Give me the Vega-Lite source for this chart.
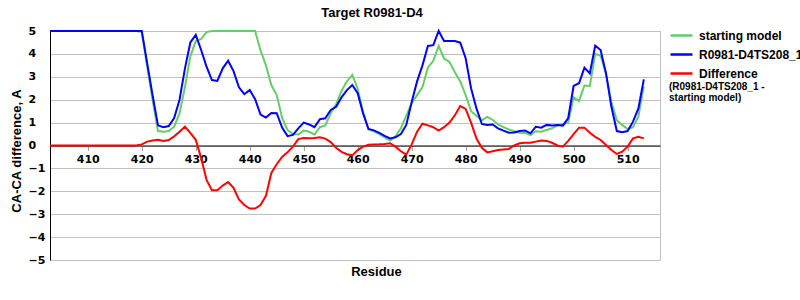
{
 "$schema": "https://vega.github.io/schema/vega-lite/v6.json",
 "width": 610, "height": 229,
 "autosize": {"type": "none"},
 "padding": {"left": 50, "top": 31, "right": 140, "bottom": 40},
 "background": "white",
 "title": {"text": "Target R0981-D4", "font": "Liberation Sans", "fontSize": 13, "fontWeight": "bold", "color": "black", "anchor": "middle", "dx": 17, "dy": 19, "offset": 12, "baseline": "alphabetic"},
 "data": {"values": [
  {"res":403,"g":5,"b":5,"r":0},{"res":404,"g":5,"b":5,"r":0},{"res":405,"g":5,"b":5,"r":0},{"res":406,"g":5,"b":5,"r":0},
  {"res":407,"g":5,"b":5,"r":0},{"res":408,"g":5,"b":5,"r":0},{"res":409,"g":5,"b":5,"r":0},{"res":410,"g":5,"b":5,"r":0},
  {"res":411,"g":5,"b":5,"r":0},{"res":412,"g":5,"b":5,"r":0},{"res":413,"g":5,"b":5,"r":0},{"res":414,"g":5,"b":5,"r":0},
  {"res":415,"g":5,"b":5,"r":0},{"res":416,"g":5,"b":5,"r":0},{"res":417,"g":5,"b":5,"r":0},{"res":418,"g":5,"b":5,"r":0},
  {"res":419,"g":5,"b":5,"r":0},{"res":420,"g":4.95,"b":5,"r":0.05},{"res":421,"g":3.45,"b":3.6,"r":0.17},{"res":422,"g":2.0,"b":2.2,"r":0.22},
  {"res":423,"g":0.63,"b":0.88,"r":0.25},{"res":424,"g":0.6,"b":0.8,"r":0.2},{"res":425,"g":0.63,"b":0.85,"r":0.24},{"res":426,"g":0.82,"b":1.2,"r":0.4},
  {"res":427,"g":1.4,"b":2.0,"r":0.6},{"res":428,"g":2.55,"b":3.37,"r":0.82},{"res":429,"g":3.9,"b":4.5,"r":0.55},{"res":430,"g":4.55,"b":4.83,"r":0.25},
  {"res":431,"g":4.65,"b":4.17,"r":-0.55},{"res":432,"g":4.95,"b":3.44,"r":-1.5},{"res":433,"g":5,"b":2.86,"r":-1.95},{"res":434,"g":5,"b":2.82,"r":-1.95},
  {"res":435,"g":5,"b":3.37,"r":-1.75},{"res":436,"g":5,"b":3.7,"r":-1.6},{"res":437,"g":5,"b":3.25,"r":-1.85},{"res":438,"g":5,"b":2.54,"r":-2.35},
  {"res":439,"g":5,"b":2.24,"r":-2.6},{"res":440,"g":5,"b":2.42,"r":-2.75},{"res":441,"g":5,"b":2.02,"r":-2.75},{"res":442,"g":4.15,"b":1.35,"r":-2.6},
  {"res":443,"g":3.5,"b":1.22,"r":-2.2},{"res":444,"g":2.64,"b":1.42,"r":-1.2},{"res":445,"g":2.2,"b":1.41,"r":-0.82},{"res":446,"g":1.2,"b":0.78,"r":-0.5},
  {"res":447,"g":0.68,"b":0.41,"r":-0.3},{"res":448,"g":0.5,"b":0.46,"r":-0.05},{"res":449,"g":0.48,"b":0.75,"r":0.28},{"res":450,"g":0.65,"b":1.0,"r":0.33},
  {"res":451,"g":0.6,"b":0.92,"r":0.32},{"res":452,"g":0.48,"b":0.8,"r":0.33},{"res":453,"g":0.8,"b":1.15,"r":0.36},{"res":454,"g":0.88,"b":1.19,"r":0.3},
  {"res":455,"g":1.4,"b":1.55,"r":0.15},{"res":456,"g":1.8,"b":1.69,"r":-0.1},{"res":457,"g":2.38,"b":2.1,"r":-0.28},{"res":458,"g":2.8,"b":2.42,"r":-0.38},
  {"res":459,"g":3.08,"b":2.64,"r":-0.43},{"res":460,"g":2.48,"b":2.28,"r":-0.2},{"res":461,"g":1.45,"b":1.4,"r":-0.05},{"res":462,"g":0.7,"b":0.72,"r":0.03},
  {"res":463,"g":0.62,"b":0.66,"r":0.04},{"res":464,"g":0.5,"b":0.55,"r":0.05},{"res":465,"g":0.35,"b":0.42,"r":0.07},{"res":466,"g":0.22,"b":0.31,"r":0.1},
  {"res":467,"g":0.4,"b":0.36,"r":-0.05},{"res":468,"g":0.75,"b":0.5,"r":-0.25},{"res":469,"g":1.3,"b":0.9,"r":-0.4},{"res":470,"g":1.85,"b":1.9,"r":0.05},
  {"res":471,"g":2.2,"b":2.8,"r":0.6},{"res":472,"g":2.55,"b":3.5,"r":0.95},{"res":473,"g":3.4,"b":4.35,"r":0.88},{"res":474,"g":3.7,"b":4.38,"r":0.8},
  {"res":475,"g":4.35,"b":5.0,"r":0.65},{"res":476,"g":3.8,"b":4.56,"r":0.8},{"res":477,"g":3.65,"b":4.56,"r":1.0},{"res":478,"g":3.2,"b":4.56,"r":1.32},
  {"res":479,"g":2.8,"b":4.49,"r":1.72},{"res":480,"g":2.2,"b":3.81,"r":1.6},{"res":481,"g":1.5,"b":2.5,"r":1.0},{"res":482,"g":1.3,"b":1.62,"r":0.3},
  {"res":483,"g":1.1,"b":0.94,"r":-0.1},{"res":484,"g":1.25,"b":0.9,"r":-0.3},{"res":485,"g":1.12,"b":0.92,"r":-0.25},{"res":486,"g":0.92,"b":0.75,"r":-0.2},
  {"res":487,"g":0.8,"b":0.65,"r":-0.17},{"res":488,"g":0.7,"b":0.56,"r":-0.15},{"res":489,"g":0.62,"b":0.57,"r":0.0},{"res":490,"g":0.56,"b":0.63,"r":0.1},
  {"res":491,"g":0.55,"b":0.65,"r":0.12},{"res":492,"g":0.45,"b":0.53,"r":0.12},{"res":493,"g":0.62,"b":0.82,"r":0.17},{"res":494,"g":0.6,"b":0.78,"r":0.22},
  {"res":495,"g":0.68,"b":0.9,"r":0.2},{"res":496,"g":0.75,"b":0.87,"r":0.12},{"res":497,"g":0.88,"b":0.9,"r":0.0},{"res":498,"g":0.92,"b":0.87,"r":-0.05},
  {"res":499,"g":1.0,"b":1.2,"r":0.2},{"res":500,"g":2.1,"b":2.6,"r":0.5},{"res":501,"g":1.94,"b":2.72,"r":0.78},{"res":502,"g":2.62,"b":3.4,"r":0.78},
  {"res":503,"g":2.6,"b":3.15,"r":0.56},{"res":504,"g":4.0,"b":4.36,"r":0.38},{"res":505,"g":3.92,"b":4.17,"r":0.24},{"res":506,"g":3.12,"b":3.15,"r":0.02},
  {"res":507,"g":1.9,"b":1.69,"r":-0.2},{"res":508,"g":1.1,"b":0.63,"r":-0.37},{"res":509,"g":0.9,"b":0.58,"r":-0.27},{"res":510,"g":0.72,"b":0.63,"r":-0.05},
  {"res":511,"g":0.8,"b":1.04,"r":0.31},{"res":512,"g":1.26,"b":1.62,"r":0.38},{"res":513,"g":2.58,"b":2.89,"r":0.31}
 ]},
 "transform": [{"fold": ["g", "b", "r"], "as": ["series", "value"]}],
 "mark": {"type": "line", "strokeWidth": 2},
 "encoding": {
  "x": {"field": "res", "type": "quantitative",
        "scale": {"domain": [403, 516], "nice": false, "zero": false},
        "axis": {"orient": "bottom", "offset": -114.5, "values": [410,420,430,440,450,460,470,480,490,500,510],
                 "domainColor": "black", "domainWidth": 1, "tickColor": "#a0a0a0", "tickSize": 5,
                 "labelFont": "DejaVu Sans", "labelFontWeight": "bold", "labelFontSize": 11, "labelColor": "black",
                 "labelPadding": 3, "labelFlush": false, "labelOverlap": false, "grid": false,
                 "title": "Residue", "titleFont": "Liberation Sans", "titleFontSize": 13, "titleFontWeight": "bold",
                 "titleColor": "black", "titleX": 326, "titleY": 129.5, "titleBaseline": "alphabetic", "titleAlign": "center"}},
  "y": {"field": "value", "type": "quantitative",
        "scale": {"domain": [-5, 5], "nice": false},
        "axis": {"values": [-5,-4,-3,-2,-1,0,1,2,3,4,5], "domainColor": "black", "ticks": false, "tickSize": 0,
                 "grid": true, "gridColor": "#c0c0c0", "labelAlign": "left", "labelPadding": 22,
                 "labelFont": "DejaVu Sans", "labelFontWeight": "bold", "labelFontSize": 11, "labelColor": "black",
                 "title": "CA-CA difference, A", "titleFont": "Liberation Sans", "titleFontSize": 13, "titleFontWeight": "bold",
                 "titleColor": "black", "titleAngle": -90, "titleX": -29.5, "titleY": 119.5, "titleAlign": "center", "titleBaseline": "alphabetic"}},
  "color": {"field": "series", "type": "nominal",
            "scale": {"domain": ["g", "b", "r"], "range": ["#66cc66", "#0000ff", "#ff0000"]},
            "legend": {"orient": "none", "legendX": 619, "legendY": -8, "padding": 0,
                       "labelExpr": "datum.value == 'g' ? 'starting model' : datum.value == 'b' ? 'R0981-D4TS208_1' : 'Difference'",
                       "labelFont": "Liberation Sans", "labelFontSize": 12, "labelFontWeight": "bold", "labelColor": "black",
                       "labelOffset": 5, "labelLimit": 300, "symbolType": "stroke", "symbolSize": 484, "symbolStrokeWidth": 2.5,
                       "rowPadding": -2,
                       "title": ["(R0981-D4TS208_1 -", "\u00a0\u00a0\u00a0\u00a0\u00a0\u00a0\u00a0\u00a0\u00a0\u00a0\u00a0\u00a0starting model)"],
                       "titleOrient": "bottom", "titleFont": "Liberation Sans", "titleFontSize": 10, "titleFontWeight": "bold",
                       "titleColor": "black", "titleAnchor": "start", "titleAlign": "left", "titlePadding": 2, "titleLineHeight": 11, "titleLimit": 300}}
 },
 "config": {"view": {"stroke": "#c0c0c0"}}
}
